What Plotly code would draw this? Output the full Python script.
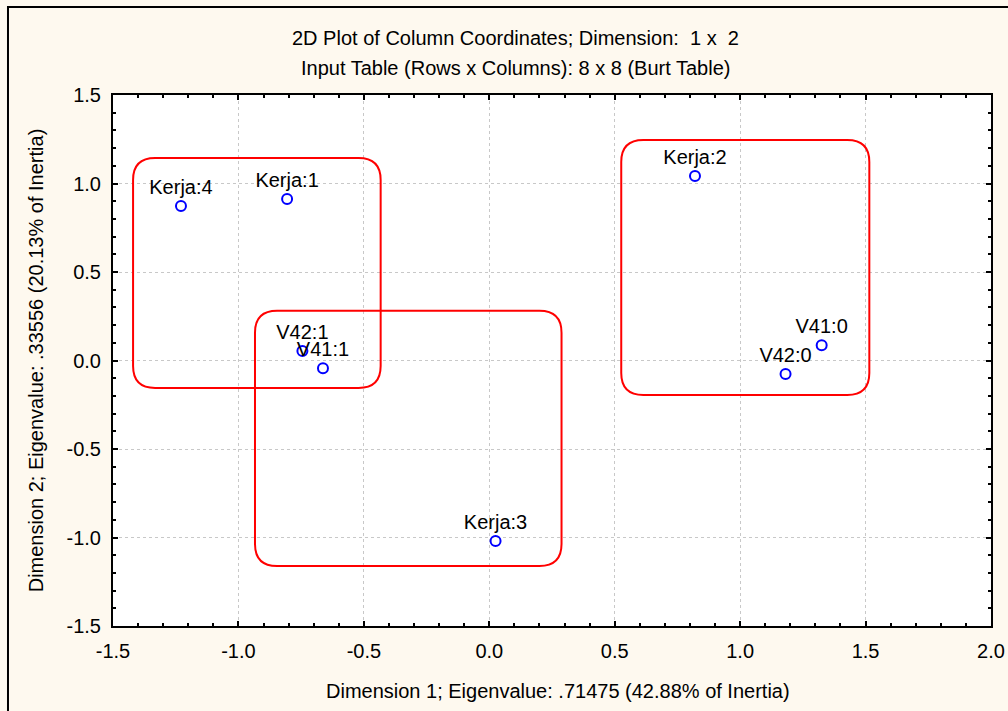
import plotly.graph_objects as go

# ---- data ----
labels = ["Kerja:4", "Kerja:1", "V42:1", "V41:1", "Kerja:3", "Kerja:2", "V42:0", "V41:0"]
dim1 = [-1.229, -0.806, -0.745, -0.663, 0.025, 0.820, 1.181, 1.325]
dim2 = [0.873, 0.912, 0.054, -0.044, -1.020, 1.042, -0.076, 0.086]

# cluster outlines (data units): x0, x1, y0 (top), y1 (bottom)
cluster_x0 = [-1.420, -0.934, 0.526]
cluster_x1 = [-0.433, 0.288, 1.515]
cluster_ytop = [1.144, 0.281, 1.246]
cluster_ybot = [-0.155, -1.161, -0.195]

x_ticks = [-1.5, -1.0, -0.5, 0.0, 0.5, 1.0, 1.5, 2.0]
y_ticks = [-1.5, -1.0, -0.5, 0.0, 0.5, 1.0, 1.5]

FONT = "Liberation Sans, Arial, sans-serif"
FS = 20

fig = go.Figure()
fig.add_trace(go.Scatter(
    x=dim1, y=dim2, mode="markers+text", text=labels,
    textposition="top center",
    textfont=dict(family=FONT, size=FS, color="black"),
    marker=dict(symbol="circle-open", size=10, color="#0000FF",
                line=dict(width=2, color="#0000FF")),
    showlegend=False, cliponaxis=False,
))

# rounded rectangles
rx = 0.088
ry = 0.124
shapes = []
for x0, x1, yt, yb in zip(cluster_x0, cluster_x1, cluster_ytop, cluster_ybot):
    p = (f"M {x0+rx},{yt} L {x1-rx},{yt} Q {x1},{yt} {x1},{yt-ry} "
         f"L {x1},{yb+ry} Q {x1},{yb} {x1-rx},{yb} "
         f"L {x0+rx},{yb} Q {x0},{yb} {x0},{yb+ry} "
         f"L {x0},{yt-ry} Q {x0},{yt} {x0+rx},{yt} Z")
    shapes.append(dict(type="path", path=p, xref="x", yref="y",
                       line=dict(color="#FF0000", width=2), layer="above"))

# outer frame
shapes.append(dict(type="rect", xref="paper", yref="paper",
                   x0=-0.1196, x1=1.2, y0=-0.3, y1=1.1657,
                   line=dict(color="black", width=2), layer="below"))

axis_common = dict(
    showline=True, linecolor="black", linewidth=2, mirror="ticks",
    ticks="inside", ticklen=5, tickwidth=1.5, tickcolor="black",
    showgrid=True, gridcolor="#c8c8c8", griddash="dot", gridwidth=1,
    zeroline=False, automargin=False,
    tickfont=dict(family=FONT, size=FS, color="black"),
    minor=dict(ticks="inside", ticklen=3, tickwidth=1.5, tickcolor="black",
               dtick=0.1, showgrid=False),
)

fig.update_layout(
    width=1008, height=711,
    margin=dict(l=113, r=17, t=95, b=85),
    paper_bgcolor="#FEF9EF", plot_bgcolor="white",
    font=dict(family=FONT, size=FS, color="black"),
    shapes=shapes,
    xaxis=dict(range=[-1.5, 2.0], tickvals=x_ticks,
               ticktext=[f"{v:.1f}" for v in x_ticks],
               ticklabelstandoff=6,
               **axis_common),
    yaxis=dict(range=[-1.5, 1.5], tickvals=y_ticks,
               ticktext=[f"{v:.1f}" for v in y_ticks],
               ticklabelstandoff=6,
               title=dict(text="Dimension 2; Eigenvalue: .33556 (20.13% of Inertia)",
                          font=dict(family=FONT, size=FS), standoff=18),
               **axis_common),
    annotations=[
        dict(text="2D Plot of Column Coordinates; Dimension:  1 x  2",
             xref="paper", yref="paper", x=0.458, y=1.107,
             xanchor="center", yanchor="middle", showarrow=False,
             font=dict(family=FONT, size=FS)),
        dict(text="Input Table (Rows x Columns): 8 x 8 (Burt Table)",
             xref="paper", yref="paper", x=0.458, y=1.051,
             xanchor="center", yanchor="middle", showarrow=False,
             font=dict(family=FONT, size=FS)),
        dict(text="Dimension 1; Eigenvalue: .71475 (42.88% of Inertia)",
             xref="paper", yref="paper", x=0.507, y=-0.1224,
             xanchor="center", yanchor="middle", showarrow=False,
             font=dict(family=FONT, size=FS)),
    ],
)

fig.write_html("out.html", config={"displayModeBar": False},
               post_script="document.body.style.margin='0px';document.body.style.overflow='hidden';")
